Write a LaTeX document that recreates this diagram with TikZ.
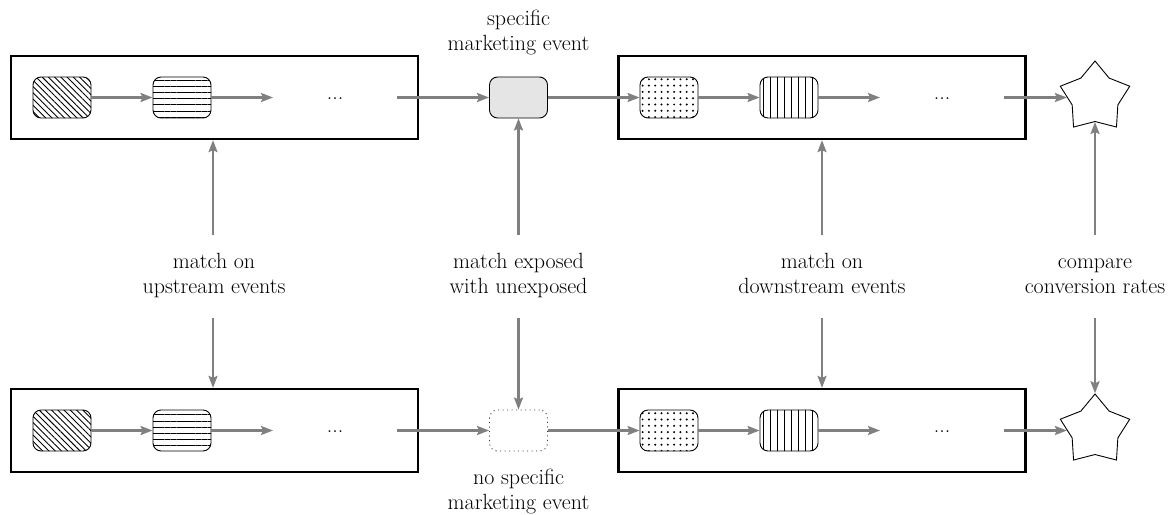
\documentclass[tikz,border=0pt]{standalone}
\usetikzlibrary{shapes.geometric,patterns.meta,arrows.meta}
\begin{document}
\begin{tikzpicture}[x=1pt,y=-1pt,
  arr/.style={draw=gray, line width=2.2pt, -{Stealth[length=12pt,width=9pt,inset=2pt]}},
  frame/.style={draw=black, line width=2.3pt, minimum width=407pt, minimum height=83pt, inner sep=0pt},
  ev/.style={draw=black, line width=0.9pt, rounded corners=8pt, minimum width=58pt, minimum height=41pt, inner sep=0pt},
  lbl/.style={font=\fontsize{22}{24.5}\selectfont, align=center, inner sep=0pt},
  starnode/.style={star, star points=5, star point ratio=1.52, minimum size=73pt, inner sep=0pt, draw=black, line width=0.9pt},
  hatch/.style={pattern={Lines[angle=-45,distance=4.4pt,line width=0.9pt]}},
  hlines/.style={pattern={Lines[angle=0,distance=6.2pt,line width=0.9pt]}},
  vlines/.style={pattern={Lines[angle=90,distance=7pt,line width=0.9pt]}},
  dotfill/.style={pattern={Dots[radius=1.1pt,distance=6.3pt]}},
]
\useasboundingbox (0,0) rectangle (1169,514);

% ---- top row ----
\node[frame] (TL) at (214.5,97.5) {};
\node[frame] (TR) at (822,97.5) {};
\node[ev,hatch] (A1) at (62,97.5) {};
\node[ev,hlines] (A2) at (182,97.5) {};
\coordinate (c1) at (273,97.5);
\node[lbl,anchor=base] (dots1) at (335,99) {...};
\coordinate (c2) at (397,97.5);
\node[ev,fill=black!10] (G) at (518.5,97.5) {};
\node[ev,dotfill] (D1) at (669,97.5) {};
\node[ev,vlines] (V1) at (789,97.5) {};
\coordinate (c3) at (880,97.5);
\node[lbl,anchor=base] (dots2) at (942,99) {...};
\coordinate (c4) at (1004,97.5);
\node[starnode] (S1) at (1095,97.5) {};

\draw[arr] (A1) -- (A2);
\draw[arr] (A2) -- (c1);
\draw[arr] (c2) -- (G);
\draw[arr] (G) -- (D1);
\draw[arr] (D1) -- (V1);
\draw[arr] (V1) -- (c3);
\draw[arr] (c4) -- (S1);

\node[lbl] (ltop) at (518.5,33) {\strut specific\\\strut marketing event};

% ---- bottom row ----
\node[frame] (BL) at (214.5,430.5) {};
\node[frame] (BR) at (822,430.5) {};
\node[ev,hatch] (B1) at (62,430.5) {};
\node[ev,hlines] (B2) at (182,430.5) {};
\coordinate (e1) at (273,430.5);
\node[lbl,anchor=base] (dots3) at (335,432) {...};
\coordinate (e2) at (397,430.5);
\node[ev,draw=black!80,dash pattern=on 1pt off 3.5pt] (N) at (518.5,430.5) {};
\node[ev,dotfill] (D2) at (669,430.5) {};
\node[ev,vlines] (V2) at (789,430.5) {};
\coordinate (e3) at (880,430.5);
\node[lbl,anchor=base] (dots4) at (942,432) {...};
\coordinate (e4) at (1004,430.5);
\node[starnode] (S2) at (1095,430.5) {};

\draw[arr] (B1) -- (B2);
\draw[arr] (B2) -- (e1);
\draw[arr] (e2) -- (N);
\draw[arr] (N) -- (D2);
\draw[arr] (D2) -- (V2);
\draw[arr] (V2) -- (e3);
\draw[arr] (e4) -- (S2);

\node[lbl] (lbot) at (518.5,492) {\strut no specific\\\strut marketing event};

% ---- middle labels ----
\node[lbl] (m1) at (214,276) {\strut match on\\\strut upstream events};
\node[lbl] (m2) at (518.5,276) {\strut match exposed\\\strut with unexposed};
\node[lbl] (m3) at (822,276) {\strut match on\\\strut downstream events};
\node[lbl] (m4) at (1095,276) {\strut compare\\\strut conversion rates};

\coordinate (u1) at (213,235);
\coordinate (u2) at (518.5,235);
\coordinate (u3) at (822,235);
\coordinate (u4) at (1095,235);
\coordinate (d1) at (213,318);
\coordinate (d2) at (518.5,318);
\coordinate (d3) at (822,318);
\coordinate (d4) at (1095,318);

\draw[arr] (u1) -- (u1 |- TL.south);
\draw[arr] (u2) -- (G);
\draw[arr] (u3) -- (TR);
\draw[arr] (u4) -- (S1);
\draw[arr] (d1) -- (d1 |- BL.north);
\draw[arr] (d2) -- (N);
\draw[arr] (d3) -- (BR);
\draw[arr] (d4) -- (S2);
\end{tikzpicture}
\end{document}
